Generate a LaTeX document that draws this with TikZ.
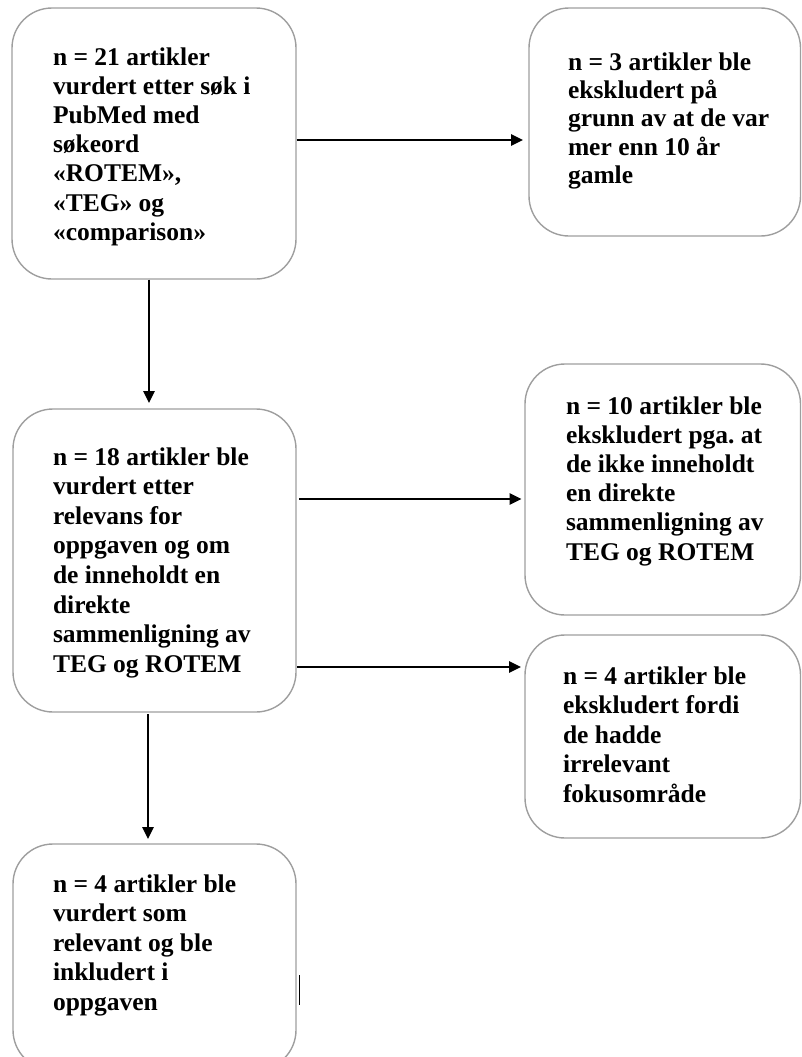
\documentclass[tikz,border=0pt]{standalone}
\usepackage{fontspec}
\setmainfont{Liberation Serif}
\frenchspacing
\usetikzlibrary{arrows.meta}
\tikzset{
  box/.style={draw=black!38, line width=1.4pt, rounded corners=40pt, inner sep=0pt, outer sep=0pt, fill=none},
  txt/.style={font=\fontsize{25.5}{#1}\selectfont\bfseries, align=left, anchor=north west, inner sep=0pt, outer sep=0pt},
  arr/.style={line width=1.5pt, -{Triangle[length=12pt,width=11.5pt]}}
}
\begin{document}
\begin{tikzpicture}[x=1pt,y=-1pt]
\clip (0,0) rectangle (802,1057);
% boxes
\node[box, minimum width=284pt, minimum height=271pt] (b1) at (154,143.5) {};
\node[box, minimum width=271.5pt, minimum height=228pt] (b2) at (664.75,122) {};
\node[box, minimum width=283pt, minimum height=303pt] (b3) at (154.5,560.5) {};
\node[box, minimum width=275.5pt, minimum height=251pt] (b4) at (662.75,489.5) {};
\node[box, minimum width=275.5pt, minimum height=203pt] (b5) at (662.75,736.5) {};
\node[box, minimum width=283pt, minimum height=226pt] (b6) at (154.5,957) {};
% texts (top = first baseline - 0.7 * skip)
\node[txt=29.1] (t1) at (53,45.13) {\strut n = 21 artikler\\vurdert etter søk i\\PubMed med\\søkeord\\«ROTEM»,\\«TEG» og\\«comparison»};
\node[txt=28.4] (t2) at (568,50.12) {\strut n = 3 artikler ble\\ekskludert på\\grunn av at de var\\mer enn 10 år\\gamle};
\node[txt=29.6] (t3) at (53,444.28) {\strut n = 18 artikler ble\\vurdert etter\\relevans for\\oppgaven og om\\de inneholdt en\\direkte\\sammenligning av\\TEG og ROTEM};
\node[txt=29.2] (t4) at (566,393.56) {\strut n = 10 artikler ble\\ekskludert pga. at\\de ikke inneholdt\\en direkte\\sammenligning av\\TEG og ROTEM};
\node[txt=29.5] (t5) at (563,663.35) {\strut n = 4 artikler ble\\ekskludert fordi\\de hadde\\irrelevant\\fokusområde};
\node[txt=29.5] (t6) at (53,871.35) {\strut n = 4 artikler ble\\vurdert som\\relevant og ble\\inkludert i\\oppgaven};
% connectors
\draw[arr, shorten <=0.5pt, shorten >=6pt] (b1.east |- 0,140) -- (b2.west |- 0,140);
\draw[arr, shorten <=0.5pt, shorten >=6pt] (b1.south -| 149,0) -- (b3.north -| 149,0);
\draw[arr, shorten <=3pt, shorten >=3.5pt] (b3.east |- 0,499) -- (b4.west |- 0,499);
\draw[arr, shorten <=1pt, shorten >=4pt] (b3.east |- 0,667) -- (b5.west |- 0,667);
\draw[arr, shorten <=2pt, shorten >=5pt] (b3.south -| 148,0) -- (b6.north -| 148,0);
% stray mark
\coordinate (m1) at (299.3,975);
\coordinate (m2) at (299.3,1005);
\draw[line width=1pt] (m1) -- (m2);
\end{tikzpicture}
\end{document}
